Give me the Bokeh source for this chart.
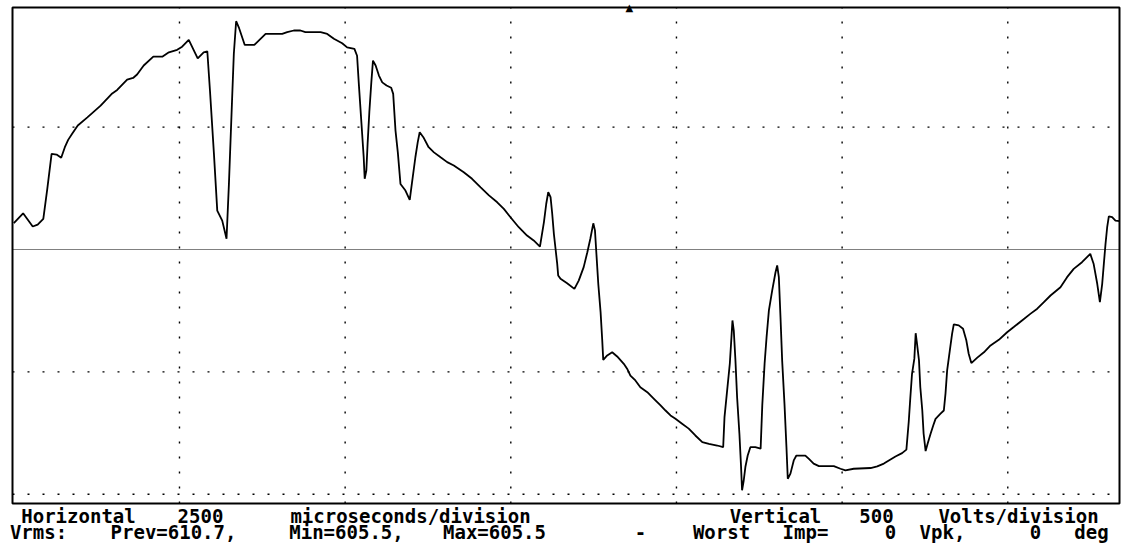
from bokeh.plotting import figure
from bokeh.models import Range1d, BoxAnnotation
from bokeh.core.properties import value
from bokeh.embed import file_html
from bokeh.resources import INLINE

# ---- data: one cycle, time in microseconds, voltage in volts ----
t_us = [
    0, 140, 285, 360, 445, 505, 570, 645, 715, 770,
    820, 880, 965, 1110, 1310, 1485, 1560, 1710, 1800, 1860,
    1960, 2105, 2240, 2340, 2465, 2540, 2640, 2775, 2865, 2920,
    2960, 3020, 3070, 3145, 3210, 3245, 3295, 3320, 3355, 3395,
    3485, 3630, 3800, 4050, 4125, 4225, 4325, 4400, 4630, 4730,
    4830, 4955, 5030, 5140, 5180, 5205, 5230, 5255, 5280, 5295,
    5320, 5340, 5365, 5395, 5420, 5460, 5510, 5560, 5625, 5695,
    5725, 5760, 5795, 5835, 5910, 5975, 6010, 6060, 6095, 6125,
    6180, 6260, 6340, 6440, 6540, 6640, 6790, 6915, 7045, 7170,
    7295, 7395, 7495, 7620, 7745, 7845, 7940, 8000, 8035, 8065,
    8100, 8125, 8150, 8175, 8200, 8215, 8250, 8350, 8460, 8525,
    8600, 8655, 8700, 8745, 8770, 8795, 8820, 8855, 8880, 8895,
    8955, 9030, 9105, 9205, 9255, 9305, 9380, 9455, 9560, 9660,
    9760, 9835, 9910, 9985, 10085, 10185, 10285, 10390, 10490, 10615,
    10705, 10725, 10765, 10805, 10830, 10845, 10865, 10890, 10915, 10950,
    10975, 10990, 11015, 11040, 11075, 11115, 11190, 11270, 11295, 11330,
    11360, 11395, 11445, 11495, 11520, 11545, 11570, 11595, 11630, 11660,
    11680, 11720, 11770, 11810, 11945, 11995, 12070, 12150, 12375, 12475,
    12550, 12675, 12930, 13030, 13130, 13205, 13305, 13405, 13470, 13505,
    13530, 13555, 13590, 13610, 13630, 13660, 13680, 13710, 13730, 13760,
    13790, 13835, 13875, 13910, 13985, 14035, 14060, 14085, 14125, 14160,
    14185, 14260, 14325, 14375, 14410, 14450, 14540, 14640, 14740, 14865,
    14990, 15090, 15215, 15340, 15445, 15545, 15645, 15795, 15895, 15995,
    16120, 16245, 16295, 16350, 16390, 16425, 16450, 16475, 16500, 16525,
    16575, 16625, 16686,
]
volts = [
    108, 148, 94, 102, 125, 248, 391, 388, 375, 418,
    448, 473, 507, 540, 588, 638, 652, 694, 701, 715,
    752, 788, 788, 806, 816, 829, 857, 781, 806, 810,
    650, 391, 159, 118, 44, 261, 622, 799, 933, 908,
    836, 836, 881, 881, 888, 895, 895, 888, 888, 881,
    861, 843, 826, 820, 792, 683, 581, 479, 377, 289,
    323, 438, 561, 683, 772, 752, 711, 683, 670, 661,
    636, 486, 397, 268, 241, 203, 275, 377, 438, 479,
    459, 418, 397, 377, 357, 343, 316, 289, 254, 221,
    193, 166, 132, 91, 57, 37, 12, 112, 187, 234,
    214, 146, 64, 3, -58, -106, -120, -138, -161, -127,
    -72, -11, 44, 107, 78, -31, -140, -256, -372, -451,
    -433, -420, -437, -467, -487, -515, -535, -563, -583, -610,
    -637, -658, -678, -692, -712, -732, -760, -787, -794, -801,
    -808, -685, -576, -467, -358, -290, -331, -453, -603, -753,
    -889, -984, -944, -889, -842, -808, -808, -814, -637, -467,
    -358, -249, -167, -93, -65, -113, -277, -453, -630, -808,
    -937, -916, -862, -842, -842, -855, -875, -885, -885, -896,
    -903, -896, -893, -886, -875, -862, -846, -832, -818, -705,
    -603, -508, -446, -342, -385, -453, -563, -658, -753, -824,
    -794, -753, -719, -692, -671, -658, -589, -494, -413, -344,
    -306, -310, -324, -372, -426, -464, -442, -420, -392, -369,
    -338, -317, -290, -263, -242, -215, -188, -154, -113, -79,
    -52, -18, -58, -140, -215, -140, -58, 23, 91, 135,
    132, 118, 116,
]

h_div_ticks = [2500, 5000, 7500, 10000, 12500, 15000]   # 2500 us / division
v_div_ticks = [-1000, -500, 500]                         # 500 V / division
trigger_t = [9290]

line1_tokens = ["Horizontal", "2500", "microseconds/division", "Vertical", "500", "Volts/division"]
line2_tokens = ["Vrms:", "Prev=610.7,", "Min=605.5,", "Max=605.5", "-", "Worst", "Imp=", "0", "Vpk,", "0", "deg"]

# ---- screen geometry ----
W, H = 1124, 558
BOX_L, BOX_R, BOX_T, BOX_B = 12, 1119, 7, 503     # screen box in page pixels
X0, X1 = -20, 16686          # time shown inside the screen box
Y0, Y1 = -1038, 989          # volts shown inside the screen box
US_PX = (X1 - X0) / (BOX_R - BOX_L)
V_PX = (Y1 - Y0) / (BOX_B - BOX_T)
FL, FR = 8, 1123             # frame edges (page pixels)


def tx(px):
    return X0 + (px - BOX_L) * US_PX


def vy(py):
    return Y1 - (py - BOX_T) * V_PX


p = figure(width=W, height=H,
           x_range=Range1d(tx(FL), tx(FR)),
           y_range=Range1d(vy(H), vy(0)),
           x_axis_type=None, y_axis_type=None, output_backend="svg",
           toolbar_location=None, min_border_left=FL, min_border_right=W - FR,
           min_border_top=0, min_border_bottom=0)
p.outline_line_color = None
p.background_fill_color = "white"
p.border_fill_color = "white"

# division grid, confined to the screen box
n_h, n_v = len(h_div_ticks), len(v_div_ticks)
p.segment(x0=h_div_ticks, y0=[Y0] * n_h, x1=h_div_ticks, y1=[Y1] * n_h,
          line_color="black", line_width=1.4, line_dash="2 13")
p.segment(x0=[X0] * n_v, y0=v_div_ticks, x1=[X1] * n_v, y1=v_div_ticks,
          line_color="black", line_width=1.4, line_dash="2 13")
p.segment(x0=[X0], y0=[0], x1=[X1], y1=[0],
          line_color="black", line_width=1.2, line_dash="1 1")
p.add_layout(BoxAnnotation(left=X0, right=X1, bottom=Y0, top=Y1,
                           fill_color=None, fill_alpha=0,
                           line_color="black", line_alpha=1.0, line_width=2))

p.line(t_us, volts, line_color="black", line_width=1.8)
p.text(x=trigger_t, y=[Y1], text=["\u25B2"], text_align="center",
       text_baseline="alphabetic", text_font=value("DejaVu Sans"),
       text_font_size="10px", text_color="black")

# caption lines below the screen
line1_centers = [78, 200, 410, 775, 876, 1018]
line2_centers = [38, 173, 346, 494, 640, 721, 805, 890, 942, 1035, 1091]
p.text(x=[tx(c) for c in line1_centers], y=[vy(515)] * len(line1_tokens),
       text=line1_tokens, text_align="center", text_baseline="alphabetic",
       text_font=value("DejaVu Sans Mono"), text_font_style="bold",
       text_font_size="19px", text_color="black")
p.text(x=[tx(c) for c in line2_centers], y=[vy(531.5)] * len(line2_tokens),
       text=line2_tokens, text_align="center", text_baseline="alphabetic",
       text_font=value("DejaVu Sans Mono"), text_font_style="bold",
       text_font_size="19px", text_color="black")

open("out.html", "w").write(file_html(p, INLINE))
